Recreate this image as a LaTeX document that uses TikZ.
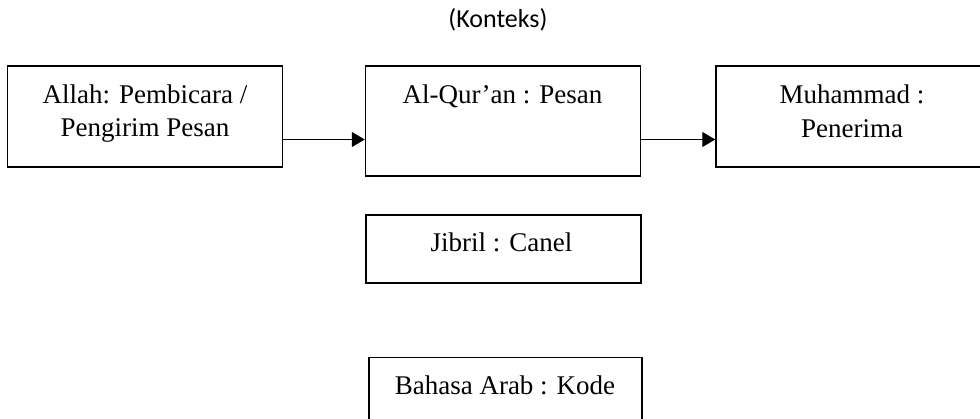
\documentclass[tikz,border=0pt]{standalone}
\usepackage{fontspec}
\setmainfont{Liberation Serif}
\newfontfamily\labelfont{Carlito}
\usetikzlibrary{arrows.meta}

\tikzset{
  boxframe/.style={draw=black, line width=1.5pt, rectangle, inner sep=0pt},
  boxtext/.style={inner sep=0pt, anchor=base, font=\fontsize{27}{33}\selectfont},
  flow/.style={line width=1.1pt, -{Triangle[length=13pt,width=15pt]}},
}

\begin{document}
\begin{tikzpicture}[x=1pt, y=-1pt]
  \useasboundingbox (0,0) rectangle (980,419);
  \clip (0,0) rectangle (980,419);

  % title
  \node[inner sep=0pt, font=\labelfont\fontsize{26}{30}\selectfont] (ctx) at (498,20) {(Konteks)};

  % frames
  \node[boxframe, minimum width=275pt, minimum height=101pt] (b1) at (145,116.5) {};
  \node[boxframe, minimum width=275pt, minimum height=110pt] (b2) at (503,121) {};
  \node[boxframe, minimum width=275pt, minimum height=101pt] (b3) at (853.5,116.5) {};
  \node[boxframe, minimum width=275pt, minimum height=68pt] (b4) at (503.5,249) {};
  \node[boxframe, minimum width=273pt, minimum height=100pt] (b5) at (505.7,407.7) {};

  % labels inside frames, one node per printed line
  \node[boxtext] (t1a) at (145,103.5) {Allah: Pembicara /};
  \node[boxtext] (t1b) at (145,137) {Pengirim Pesan};
  \node[boxtext] (t2) at (502.5,104) {Al-Qur’an : Pesan};
  \node[boxtext] (t3a) at (852,104) {Muhammad :};
  \node[boxtext] (t3b) at (852,137.5) {Penerima};
  \node[boxtext] (t4) at (501.5,252) {Jibril : Canel};
  \node[boxtext] (t5) at (505,395) {Bahasa Arab : Kode};

  % flow arrows
  \coordinate (row) at (0,139.5);
  \draw[flow] (b1.east |- row) -- (b2.west |- row);
  \draw[flow] (b2.east |- row) -- (b3.west |- row);
\end{tikzpicture}
\end{document}
